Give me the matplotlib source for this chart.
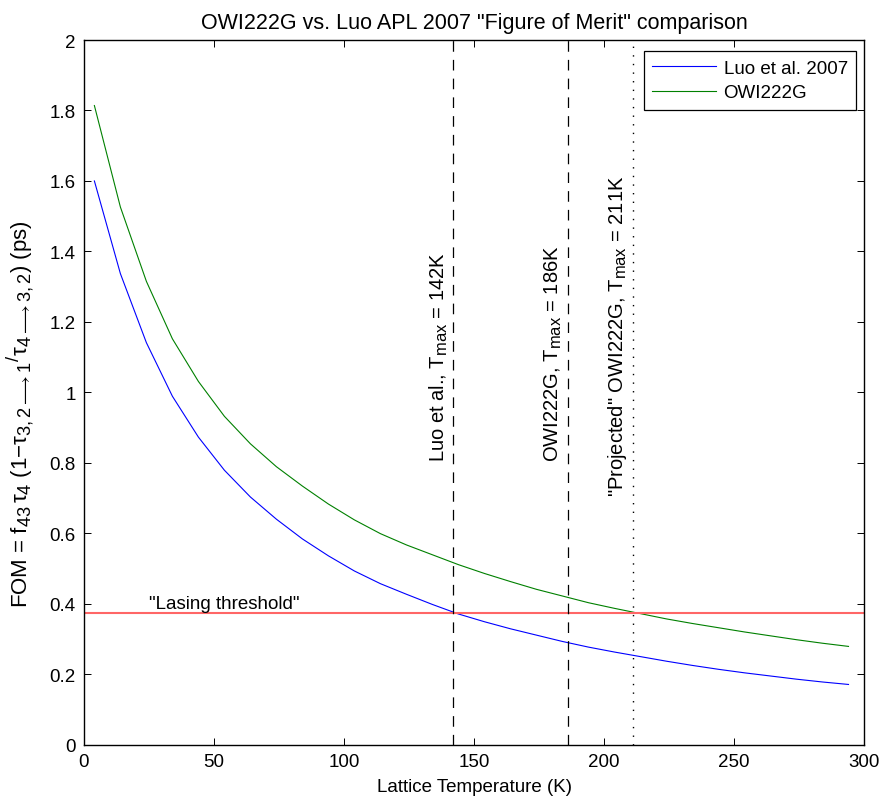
import matplotlib
matplotlib.use("Agg")
import matplotlib.pyplot as plt
import matplotlib._mathtext as mt
import numpy as np

plt.rcParams['font.family'] = ['Liberation Sans', 'DejaVu Sans']
plt.rcParams['mathtext.fontset'] = 'custom'
plt.rcParams['mathtext.rm'] = 'Liberation Sans'
plt.rcParams['mathtext.it'] = 'Liberation Sans'
plt.rcParams['mathtext.sf'] = 'Liberation Sans'
# MATLAB draws sub/superscripts almost full size
mt.SHRINK_FACTOR = 0.82

# data
temps = [4, 14, 24, 34, 44, 54, 64, 74, 84, 94, 104, 114, 124, 134, 144,
         154, 164, 174, 184, 194, 204, 214, 224, 234, 244, 254, 264, 274, 284, 294]
fom_luo = [1.600, 1.337, 1.141, 0.989, 0.873, 0.779, 0.703, 0.640, 0.584, 0.536,
           0.493, 0.457, 0.427, 0.398, 0.371, 0.349, 0.329, 0.311, 0.293, 0.277,
           0.263, 0.250, 0.237, 0.225, 0.214, 0.204, 0.195, 0.186, 0.178, 0.171]
fom_owi = [1.814, 1.526, 1.315, 1.152, 1.031, 0.932, 0.854, 0.789, 0.734, 0.683,
           0.638, 0.599, 0.567, 0.539, 0.511, 0.486, 0.463, 0.441, 0.422, 0.403,
           0.387, 0.372, 0.357, 0.344, 0.332, 0.320, 0.309, 0.298, 0.288, 0.279]
threshold = 0.375
t_luo = 142
t_owi = 186
t_proj = 211

fig = plt.figure(figsize=(8.84, 8.04), dpi=100)
ax = fig.add_axes([0.095, 0.0725, 0.8825, 0.8765])

ax.plot(temps, fom_luo, color=(0, 0, 1), lw=0.8, label='Luo et al. 2007')
ax.plot(temps, fom_owi, color=(0, 0.5, 0), lw=0.8, label='OWI222G')
ax.axhline(threshold, color='#ff6666', lw=1.5)
ax.axvline(t_luo, color='k', lw=0.9, ls=(0, (8.5, 6.5)))
ax.axvline(t_owi, color='k', lw=0.9, ls=(0, (8.5, 6.5)))
ax.axvline(t_proj, color='k', lw=1.0, ls=(0, (1, 5.2)))

ax.text(25, 0.40, '"Lasing threshold"', fontsize=13.5, va='center', ha='left')
ax.text(t_luo - 5.5, 0.805, r'Luo et al., T$_{\mathrm{max}}$ = 142K', rotation=90,
        fontsize=14.5, ha='center', va='bottom')
ax.text(t_owi - 5.5, 0.805, r'OWI222G, T$_{\mathrm{max}}$ = 186K', rotation=90,
        fontsize=14.5, ha='center', va='bottom')
ax.text(t_proj - 6, 0.705, r'"Projected" OWI222G, T$_{\mathrm{max}}$ = 211K', rotation=90,
        fontsize=14.5, ha='center', va='bottom')

ax.set_xlim(0, 300)
ax.set_ylim(0, 2)
xt = [0, 50, 100, 150, 200, 250, 300]
yt = [0, 0.2, 0.4, 0.6, 0.8, 1.0, 1.2, 1.4, 1.6, 1.8, 2.0]
ax.set_xticks(xt)
ax.set_xticklabels([str(v) for v in xt])
ax.set_yticks(yt)
ax.set_yticklabels(['0', '0.2', '0.4', '0.6', '0.8', '1', '1.2', '1.4', '1.6', '1.8', '2'])
ax.tick_params(direction='in', length=5, width=0.7, top=True, right=True,
               labelsize=13.5, pad=6)
for s in ax.spines.values():
    s.set_linewidth(1.0)

ax.set_xlabel('Lattice Temperature (K)', fontsize=13.5, labelpad=6)
ax.set_ylabel(r'FOM = f$_{43}\,\tau_4$ (1$-\tau_{3,2\longrightarrow 1}{}^{/}\tau_{4\longrightarrow 3,2}$) (ps)',
              fontsize=16)
ax.yaxis.set_label_coords(-0.062, 0.47)
ax.set_title('OWI222G vs. Luo APL 2007 "Figure of Merit" comparison', fontsize=15.5, pad=9)

leg = ax.legend(loc='upper right', bbox_to_anchor=(0.99, 0.984), borderaxespad=0,
                fontsize=13.5, fancybox=False, framealpha=1, edgecolor='k',
                handlelength=3.4, handletextpad=0.4, borderpad=0.45, labelspacing=0.4)
leg.get_frame().set_linewidth(0.9)

fig.savefig('out.png', dpi=100)
